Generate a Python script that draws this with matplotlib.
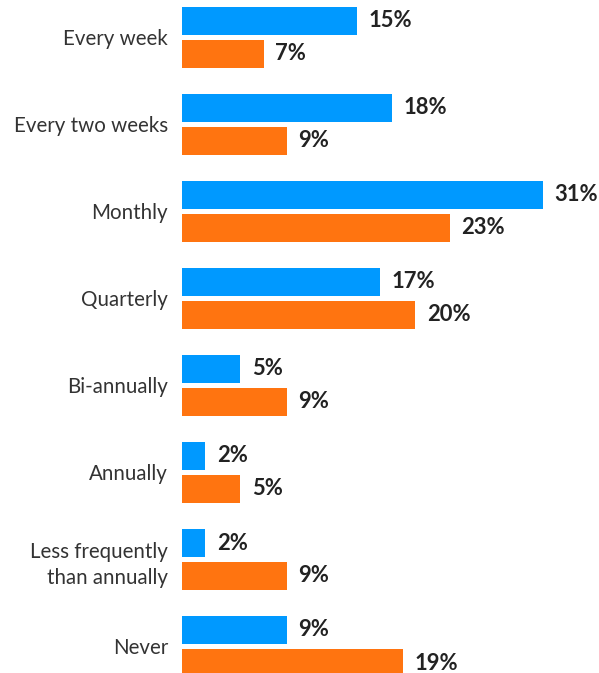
import numpy as np
import matplotlib
matplotlib.use("Agg")
from matplotlib import pyplot as plt

categories = ["Every week", "Every two weeks", "Monthly", "Quarterly", "Bi-annually",
              "Annually", "Less frequently\nthan annually", "Never"]
blue_vals = [15, 18, 31, 17, 5, 2, 2, 9]
orange_vals = [7, 9, 23, 20, 9, 5, 9, 19]

BLUE = "#0099ff"
ORANGE = "#ff7410"
TEXT = "#222222"

plt.rcParams['font.family'] = ['Lato', 'DejaVu Sans']

fig = plt.figure(figsize=(5.99, 6.73), dpi=100)
# axes starts where the bars start; the rest of the figure holds the labels
ax = fig.add_axes([182 / 599, 0, 1 - 182 / 599, 1])

y = np.arange(len(categories))
h = 28 / 87
off = 16.5 / 87

ax.barh(y - off, blue_vals, height=h, color=BLUE)
ax.barh(y + off, orange_vals, height=h, color=ORANGE)

for yi, b, o in zip(y, blue_vals, orange_vals):
    ax.text(b + 1.0, yi - off, f"{b}%", va="center", ha="left",
            fontsize=15.8, fontweight="bold", color=TEXT)
    ax.text(o + 1.0, yi + off, f"{o}%", va="center", ha="left",
            fontsize=15.8, fontweight="bold", color=TEXT)

ax.set_xlim(0, (599 - 182) / 11.65)
ax.set_ylim((673 - 37.5) / 87, -37.5 / 87)
ax.set_yticks(y)
ax.set_yticklabels(categories, fontsize=14.8, color="#333333", ha="right",
                   linespacing=1.4)
ax.tick_params(axis="y", length=0, pad=10)
ax.set_xticks([])
for s in ax.spines.values():
    s.set_visible(False)

fig.savefig("out.png", dpi=100)
